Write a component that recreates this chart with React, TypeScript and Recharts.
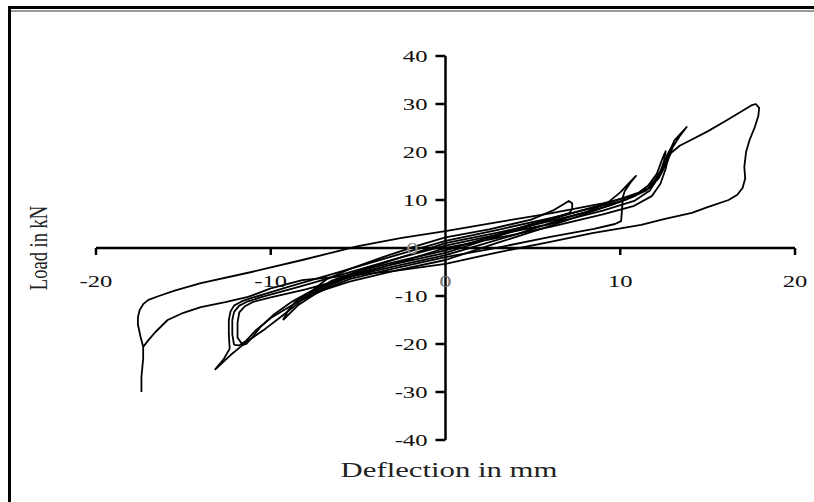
import React from 'react';
import { LineChart, Line, XAxis, YAxis, ReferenceLine, ReferenceDot } from 'recharts';

type P = [number, number];

const xTicks = [-20, -10, 0, 10, 20];
const yTicks = [-40, -30, -20, -10, 0, 10, 20, 30, 40];

const cycle10: P[] = [[-7.8,-10.2],[-7.5,-8.5],[-6.8,-6.5],[-5.5,-4.4],[-3.5,-1.8],[-1.5,0.6],[0,2.2],[2.5,3.9],[4.9,5.9],[6.2,7.9],[6.8,9.2],[7.05,9.8],[7.25,9.3],[7.25,8.2],[7.1,7.3],[6,6],[4.9,5],[2.5,2.2],[0,-0.5],[-2.5,-2.6],[-5,-4.8],[-6.5,-6.8],[-7.3,-8.6],[-7.8,-10.2]];

const cycle15: P[] = [[-9.3,-15],[-9,-13],[-8.6,-11.2],[-7.8,-9.4],[-6.5,-7.3],[-4.5,-4.3],[-2,-1.3],[0,1.0],[3,3.2],[6,5.6],[8,7.4],[9.3,9.5],[10,11.6],[10.5,13.5],[10.9,15],[10.6,13.7],[10.25,11.8],[10.15,10.6],[10.1,8],[10.05,5.6],[9.7,5],[8.5,4],[6,2.3],[3,0.1],[0,-1.9],[-3,-4.3],[-5.5,-6.5],[-7.3,-9.2],[-8.4,-11.8],[-9.3,-15]];

const cycle20a: P[] = [[-12.1,-20.2],[-12.2,-18],[-12.2,-15],[-12.1,-13.3],[-11.8,-12],[-11.3,-11.1],[-10.5,-10.2],[-8.5,-8.2],[-6,-5.6],[-3,-2.4],[0,0.5],[3,2.8],[6,5],[9,7.8],[10.8,9.8],[11.7,12],[12.2,15],[12.5,18],[12.6,20.2],[12.4,18.5],[12.1,15.5],[11.6,13],[10.8,10.8],[9.5,9],[7,6.4],[4,2.8],[0,-1.5],[-3,-3.9],[-5.5,-6],[-7.7,-9.6],[-9,-12.4],[-10,-14.6],[-10.9,-17.3],[-11.4,-19.3],[-11.8,-20.3],[-12.1,-20.2]];

const cycle20b: P[] = [[-11.6,-20.2],[-11.9,-18.7],[-11.9,-15.5],[-11.8,-13.4],[-11.5,-12.2],[-11,-11.2],[-10,-10.3],[-8,-8.6],[-5.5,-6.1],[-2.5,-2.8],[0,0],[3,2.1],[6,4.4],[9,7],[10.8,8.8],[11.8,10.8],[12.3,13.4],[12.6,16.5],[12.8,19.8],[12.9,20.8],[12.7,19.5],[12.4,16.5],[11.9,13.8],[11.1,11.6],[9.5,9.6],[7,7],[4,3.6],[0,-1.0],[-3,-3.4],[-5.5,-5.6],[-7.3,-8.2],[-8.8,-11.2],[-9.8,-13.8],[-10.6,-16.5],[-11.1,-18.8],[-11.4,-20],[-11.6,-20.2]];

const cycle25: P[] = [[-13.2,-25.4],[-12.7,-23.2],[-12.35,-21],[-12.4,-18],[-12.4,-15],[-12.3,-13.2],[-12.1,-12],[-11.6,-11],[-11,-10.3],[-9,-8.1],[-6,-4.9],[-3,-1.7],[0,1.5],[3,3.8],[6,6.2],[8.4,8.3],[10.3,10],[11.5,12],[12.2,14.5],[12.7,18],[13,21],[13.4,23.3],[13.8,25.2],[13.6,24.4],[13.1,22.4],[12.8,20],[12.6,17.5],[12.3,15.2],[11.8,12.7],[10.3,10],[8.4,7.6],[6,4.6],[3,1.1],[0,-2.5],[-3,-4.8],[-5.5,-7],[-7,-8.8],[-8.2,-10.8],[-9.3,-14],[-10.3,-16.8],[-11.4,-19.6],[-12.3,-22.3],[-13.2,-25.4]];

const cycle30: P[] = [[-17.4,-30],[-17.4,-26.9],[-17.3,-23],[-17.3,-20.6],[-17.45,-18.5],[-17.6,-16],[-17.6,-14.4],[-17.5,-12.9],[-17.3,-11.7],[-17,-10.8],[-16.4,-10],[-15.5,-8.9],[-14,-7.3],[-11.1,-5],[-8.2,-2.5],[-5,0.4],[-2.5,2.1],[0,3.5],[3,5.4],[6,7.2],[9,9.3],[10.8,10.9],[11.6,12.4],[12.1,14.5],[12.5,17],[12.9,19.8],[13.4,21.3],[14.1,22.6],[15,24.3],[16,26.4],[17,28.6],[17.5,29.7],[17.75,30],[17.95,29.2],[17.9,27.5],[17.7,25.2],[17.4,22.5],[17.2,20],[17.1,16.9],[17.15,14.5],[17,12.5],[16.7,11.1],[16.2,10],[15,8.5],[14.1,7.3],[12.5,6],[11.2,4.8],[8.4,3.1],[6,1.3],[3,-0.9],[0,-3.3],[-3,-4.8],[-6,-5.9],[-8.2,-6.7],[-10,-8.4],[-11.3,-10.2],[-12.6,-11.3],[-14,-12.3],[-15,-13.5],[-15.9,-15],[-16.6,-17.5],[-17,-19.2],[-17.3,-20.6]];

const cycles: P[][] = [cycle10, cycle15, cycle20a, cycle20b, cycle25, cycle30];

const toRows = (c: P[]) => c.map(([x, y]) => ({ x, y }));

const FONT = '"Liberation Serif", "Times New Roman", serif';
const STRETCH = 1.45;

const XTick = (props: any) => {
  const { cx, cy, value } = props;
  return (
    <g>
      {value !== 0 && <line x1={cx} y1={cy} x2={cx} y2={cy + 7} stroke="#000" strokeWidth={2.5} />}
      <text transform={`translate(${cx},${cy + 33}) scale(${STRETCH},1)`} textAnchor="middle" dominantBaseline="central" fontFamily={FONT} fontSize={17} fill={value === 0 ? '#777' : '#111'}>{value}</text>
    </g>
  );
};

const YTick = (props: any) => {
  const { cx, cy, value } = props;
  const right = value === 0 ? cx - 27 : cx - 18;
  return (
    <g>
      <line x1={cx - 10} y1={cy} x2={cx} y2={cy} stroke="#000" strokeWidth={2.5} />
      <text transform={`translate(${right},${cy}) scale(${STRETCH},1)`} textAnchor="end" dominantBaseline="central" fontFamily={FONT} fontSize={17} fill={value === 0 ? '#888' : '#111'}>{value}</text>
    </g>
  );
};

export default function App() {
  return (
    <div>
      <div style={{ position: 'absolute', left: 0, top: 0, width: 814, height: 502, background: '#fff' }} />
      <div style={{ position: 'absolute', left: 0, top: 0 }}>
        <LineChart width={814} height={502} margin={{ top: 56, right: 19, bottom: 62, left: 96 }}>
          <XAxis type="number" dataKey="x" domain={[-20, 20]} hide allowDataOverflow />
          <YAxis type="number" dataKey="y" domain={[-40, 40]} hide allowDataOverflow />
          <ReferenceLine y={0} stroke="#000" strokeWidth={2.5} />
          <ReferenceLine x={0} stroke="#000" strokeWidth={2.5} />
          {cycles.map((c, i) => (
            <Line key={i} data={toRows(c)} dataKey="y" type="linear" stroke="#000" strokeWidth={1.8} strokeLinejoin="round" dot={false} isAnimationActive={false} />
          ))}
          {xTicks.map((v) => (
            <ReferenceDot key={'x' + v} x={v} y={0} r={0} shape={(p: any) => <XTick {...p} value={v} />} />
          ))}
          {yTicks.map((v) => (
            <ReferenceDot key={'y' + v} x={0} y={v} r={0} shape={(p: any) => <YTick {...p} value={v} />} />
          ))}
        </LineChart>
      </div>
      <div style={{ position: 'absolute', left: 449, top: 470, transform: `translate(-50%,-50%) scaleX(1.5)`, fontFamily: FONT, fontSize: 20.5, color: '#222', whiteSpace: 'nowrap' }}>Deflection in mm</div>
      <div style={{ position: 'absolute', left: 40, top: 248, transform: `translate(-50%,-50%) scaleX(1.35) rotate(-90deg)`, fontFamily: FONT, fontSize: 18.5, color: '#222', whiteSpace: 'nowrap' }}>Load in kN</div>
      <div style={{ position: 'absolute', left: 8, top: 6, width: 806, height: 2.5, background: '#000' }} />
      <div style={{ position: 'absolute', left: 10, top: 10, width: 804, height: 2, background: '#999' }} />
      <div style={{ position: 'absolute', left: 8, top: 6, width: 2.5, height: 496, background: '#000' }} />
    </div>
  );
}
